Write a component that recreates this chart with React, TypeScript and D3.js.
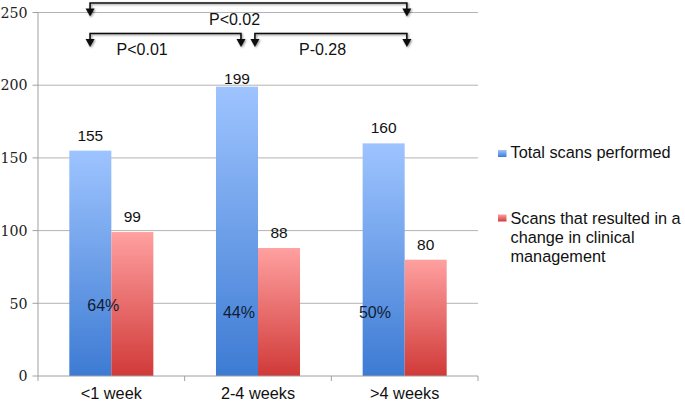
import React from "react";
import * as d3 from "d3";

const categories = ["<1 week", "2-4 weeks", ">4 weeks"];
const seriesNames = ["Total scans performed", "Scans that resulted in a change in clinical management"];
const totalScans = [155, 199, 160];
const changedScans = [99, 88, 80];
const yTicks = [0, 50, 100, 150, 200, 250];
const brackets = [
  { from: -0.145, to: 2.015, level: 0, label: "P<0.02", labelAt: 0.84 },
  { from: -0.145, to: 0.884, level: 1, label: "P<0.01", labelAt: 0.21 },
  { from: 0.979, to: 2.015, level: 1, label: "P-0.28", labelAt: 1.44 },
];

const W = 685;
const H = 402;
const SANS = "'Liberation Sans', Arial, sans-serif";
const SERIF = "'DejaVu Serif', serif";

export default function App() {
  const left = 38, right = 478, top = 12.5, bottom = 376;
  const y = d3.scaleLinear().domain([0, 250]).range([bottom, top]);
  const x = d3.scaleBand<string>().domain(categories).range([left, right]).paddingInner(0.427).paddingOuter(0.2135);
  const xs = d3.scaleBand<number>().domain([0, 1]).range([0, x.bandwidth()]);
  const catCenter = d3.scaleLinear().domain([0, 1]).range([x(categories[0])! + x.bandwidth() / 2, x(categories[1])! + x.bandwidth() / 2]);
  const step = x.step();
  const series = [totalScans, changedScans];
  const grads = [
    ["#9ec4ff", "#3d7bd3"],
    ["#ffa0a0", "#d03a38"],
  ];
  const labelGap = [[10, 2.5, 10], [10, 10, 10]];
  const pctOffset = [[13, 2, -8.7], [305, 312, 312]];
  const bracketY = [3, 33.5];
  const labelY = [25, 55];

  return (
    <svg width={W} height={H} style={{ position: "absolute", left: 0, top: 0, background: "#fff" }}>
      <defs>
        {grads.map((g, i) => (
          <linearGradient key={i} id={`g${i}`} x1="0" y1="0" x2="0" y2="1">
            <stop offset="0" stopColor={g[0]} />
            <stop offset="1" stopColor={g[1]} />
          </linearGradient>
        ))}
        <filter id="sh" x="-5%" y="-50%" width="110%" height="200%">
          <feGaussianBlur in="SourceAlpha" stdDeviation="0.8" />
          <feOffset dx="0.5" dy="1" result="b" />
          <feComponentTransfer><feFuncA type="linear" slope="0.45" /></feComponentTransfer>
          <feMerge><feMergeNode /><feMergeNode in="SourceGraphic" /></feMerge>
        </filter>
      </defs>
      {/* gridlines */}
      {yTicks.map((t) => (
        <g key={t}>
          {t > 0 && <line x1={left} x2={right} y1={y(t)} y2={y(t)} stroke="#b3b3b3" strokeWidth={1} />}
          <line x1={left - 5.5} x2={left} y1={y(t)} y2={y(t)} stroke="#a0a0a0" strokeWidth={1} />
          <text x={27.5} y={y(t) + 5.2} textAnchor="end" fontFamily={SERIF} fontSize={14.2} fill="#222">{t}</text>
        </g>
      ))}
      {/* bars */}
      {categories.map((c, ci) =>
        series.map((s, si) => (
          <rect key={`${ci}-${si}`} x={x(c)! + xs(si)!} y={y(s[ci])} width={xs.bandwidth()} height={bottom - y(s[ci])} fill={`url(#g${si})`} />
        ))
      )}
      {/* axes */}
      <line x1={left} x2={left} y1={top} y2={bottom} stroke="#a0a0a0" strokeWidth={1} />
      <line x1={left} x2={right} y1={bottom} y2={bottom} stroke="#a0a0a0" strokeWidth={1} />
      {d3.range(categories.length + 1).map((i) => (
        <line key={i} x1={left + step * i} x2={left + step * i} y1={bottom} y2={bottom + 5} stroke="#a0a0a0" />
      ))}
      {categories.map((c) => (
        <text key={c} x={x(c)! + x.bandwidth() / 2} y={399} textAnchor="middle" fontFamily={SANS} fontSize={16.3} fill="#111">{c}</text>
      ))}
      {/* value labels */}
      {categories.map((c, ci) =>
        series.map((s, si) => (
          <text key={`v${ci}-${si}`} x={x(c)! + xs(si)! + xs.bandwidth() / 2} y={y(s[ci]) - labelGap[si][ci]} textAnchor="middle" fontFamily={SANS} fontSize={15.5} fill="#111">{s[ci]}</text>
        ))
      )}
      {/* percentages */}
      {categories.map((c, ci) => (
        <text key={`p${ci}`} x={x(c)! + xs(0)! + xs.bandwidth() / 2 + pctOffset[0][ci]} y={pctOffset[1][ci]} textAnchor="middle" dominantBaseline="central" fontFamily={SANS} fontSize={16} fill="#0f1c33">
          {d3.format(".0%")(changedScans[ci] / totalScans[ci])}
        </text>
      ))}
      {/* brackets */}
      {brackets.map((b, i) => {
        const x1 = catCenter(b.from), x2 = catCenter(b.to), yy = bracketY[b.level];
        const arrow = (ax: number) => `M${ax - 4.5},${yy + 5.5} L${ax + 4.5},${yy + 5.5} L${ax},${yy + 13.5} Z`;
        return (
          <g key={i}>
            <g filter="url(#sh)">
              <path d={`M${x1},${yy + 6} L${x1},${yy} L${x2},${yy} L${x2},${yy + 6}`} fill="none" stroke="#111" strokeWidth={1.6} />
              <path d={arrow(x1)} fill="#111" />
              <path d={arrow(x2)} fill="#111" />
            </g>
            <text x={catCenter(b.labelAt)} y={labelY[b.level]} textAnchor="middle" fontFamily={SANS} fontSize={16} fill="#111">{b.label}</text>
          </g>
        );
      })}
      {/* legend */}
      <rect x={498} y={150} width={8.5} height={7} fill="url(#g0)" />
      <text x={510.5} y={158} fontFamily={SANS} fontSize={16.3} fill="#111">{seriesNames[0]}</text>
      <rect x={498} y={214.5} width={8.5} height={7} fill="url(#g1)" />
      <text fontFamily={SANS} fontSize={16.3} fill="#111">
        <tspan x={510.5} y={224}>Scans that resulted in a</tspan>
        <tspan x={510.5} y={243}>change in clinical</tspan>
        <tspan x={510.5} y={262}>management</tspan>
      </text>
    </svg>
  );
}
